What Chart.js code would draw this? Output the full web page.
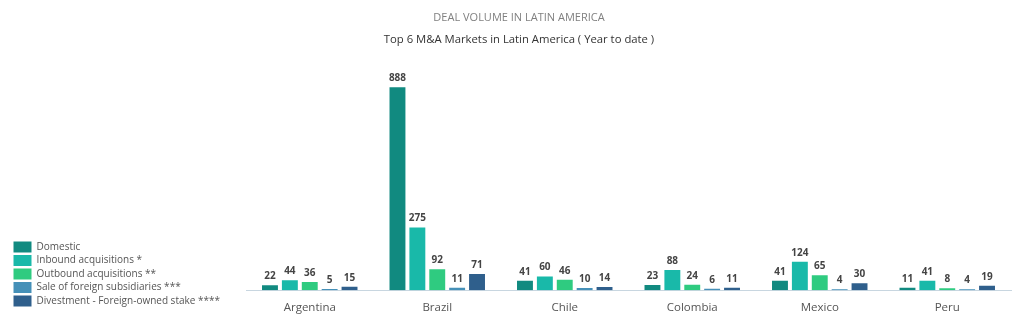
<!DOCTYPE html>
<html>
<head>
<meta charset="utf-8">
<script src="https://cdn.jsdelivr.net/npm/chart.js@4"></script>
<style>
  html, body { margin: 0; padding: 0; background: #fff; }
  #wrap { width: 1024px; height: 323px; }
</style>
</head>
<body>
<div id="wrap"><canvas id="dealChart"></canvas></div>
<script>
// Deal volume in Latin America - top 6 M&A markets
var countries = ["Argentina", "Brazil", "Chile", "Colombia", "Mexico", "Peru"];
var seriesNames = ["Domestic", "Inbound acquisitions *", "Outbound acquisitions **", "Sale of foreign subsidiaries ***", "Divestment - Foreign-owned stake ****"];
var domestic = [22, 888, 41, 23, 41, 11];
var inbound = [44, 275, 60, 88, 124, 41];
var outbound = [36, 92, 46, 24, 65, 8];
var saleForeign = [5, 11, 10, 6, 4, 4];
var divestment = [15, 71, 14, 11, 30, 19];
var seriesColors = ["#118a80", "#19b9a9", "#2fcb80", "#4590b8", "#2f5f8c"];

var allSeries = [domestic, inbound, outbound, saleForeign, divestment];

// small inline plugin to print the value above each bar
var valueLabels = {
    id: "valueLabels",
    afterDatasetsDraw: function (chart) {
        var ctx = chart.ctx;
        ctx.save();
        ctx.font = "bold 10px 'Open Sans'";
        ctx.fillStyle = "#444";
        ctx.textAlign = "center";
        ctx.textBaseline = "bottom";
        chart.data.datasets.forEach(function (ds, i) {
            chart.getDatasetMeta(i).data.forEach(function (bar, j) {
                ctx.fillText(ds.data[j], bar.x, bar.y - 4);
            });
        });
        ctx.restore();
    }
};

// move the legend into the bottom-left corner like the original
var legendPlace = {
    id: "legendPlace",
    afterLayout: function (chart) {
        var lg = chart.legend;
        var dx = 11 - lg.left;
        var dy = 309 - lg.bottom;
        lg.left += dx; lg.right += dx;
        lg.top += dy; lg.bottom += dy;
    }
};

new Chart("dealChart", {
    type: "bar",
    data: {
        labels: countries,
        datasets: allSeries.map(function (vals, i) {
            return {
                label: seriesNames[i],
                data: vals,
                backgroundColor: seriesColors[i],
                categoryPercentage: 0.78,
                barPercentage: 0.8
            };
        })
    },
    plugins: [valueLabels, legendPlace],
    options: {
        responsive: true,
        maintainAspectRatio: false,
        animation: false,
        layout: { padding: { left: 27, right: 13, bottom: 5 } },
        plugins: {
            tooltip: { enabled: false },
            title: {
                display: true,
                text: "DEAL VOLUME IN LATIN AMERICA",
                color: "#808080",
                font: { family: "Open Sans", size: 11, weight: "normal" },
                padding: { top: 11, bottom: 9 }
            },
            subtitle: {
                display: true,
                text: "Top 6 M&A Markets in Latin America ( Year to date )",
                color: "#333",
                font: { family: "Open Sans", size: 11.3 },
                padding: { bottom: 15 }
            },
            legend: {
                position: "left",
                align: "end",
                labels: {
                    boxWidth: 18,
                    boxHeight: 11,
                    padding: 2.5,
                    color: "#555",
                    font: { family: "Open Sans", size: 10 }
                }
            }
        },
        scales: {
            x: {
                grid: { display: false },
                border: { display: true, color: "#c8d6e0" },
                ticks: { color: "#555", font: { family: "Open Sans", size: 11.5 }, padding: 3 }
            },
            y: {
                display: false,
                min: 0,
                max: 1000
            }
        }
    }
});
</script>
</body>
</html>
